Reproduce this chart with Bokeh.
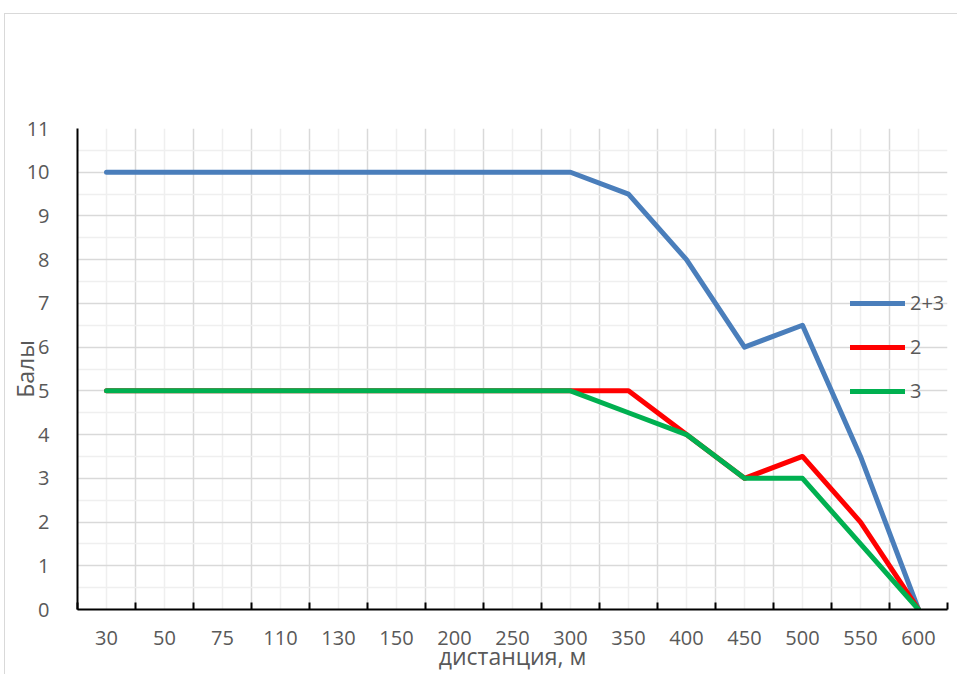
from bokeh.plotting import figure
from bokeh.models import FixedTicker, Legend, LegendItem
from bokeh.embed import file_html
from bokeh.resources import INLINE

categories = ["30", "50", "75", "110", "130", "150", "200", "250", "300",
              "350", "400", "450", "500", "550", "600"]
s_23 = [10, 10, 10, 10, 10, 10, 10, 10, 10, 9.5, 8, 6, 6.5, 3.5, 0]
s_2 = [5, 5, 5, 5, 5, 5, 5, 5, 5, 5, 4, 3, 3.5, 2, 0]
s_3 = [5, 5, 5, 5, 5, 5, 5, 5, 5, 4.5, 4, 3, 3, 1.5, 0]
series_names = ["2+3", "2", "3"]
series_colors = ["#4a7ebb", "#ff0000", "#00b050"]
y_ticks = list(range(0, 12))
x_title = "дистанция, м"
y_title = "Балы"

FONT = "Open Sans"
TXT = "#595959"

n = len(categories)
xpos = [i + 0.5 for i in range(n)]
bounds = list(range(n + 1))
y_minor = [v + 0.5 for v in y_ticks[:-1]]

p = figure(width=953, height=661, x_range=(0, n), y_range=(0, 11),
           output_backend="svg", toolbar_location=None,
           min_border_left=72, min_border_top=114,
           min_border_right=11, min_border_bottom=66)
p.margin = (13, 0, 0, 4)
p.styles = {"border-top": "1px solid #d9d9d9", "border-left": "1px solid #d9d9d9"}
p.outline_line_color = None
p.background_fill_color = "white"
p.border_fill_color = "white"

# grids
p.xgrid.ticker = FixedTicker(ticks=bounds, minor_ticks=xpos)
p.ygrid.ticker = FixedTicker(ticks=y_ticks, minor_ticks=y_minor)
for g in (p.xgrid, p.ygrid):
    g.grid_line_color = "#d9d9d9"
    g.grid_line_width = 1.5
    g.minor_grid_line_color = "#efefef"
    g.minor_grid_line_width = 1.5

# x axis
xa = p.xaxis[0]
xa.ticker = FixedTicker(ticks=xpos, minor_ticks=bounds)
xa.major_label_overrides = {xp: c for xp, c in zip(xpos, categories)}
xa.major_tick_line_color = None
xa.minor_tick_in = 7
xa.minor_tick_out = 0
xa.minor_tick_line_color = "black"
xa.minor_tick_line_width = 2
xa.axis_line_color = "black"
xa.axis_line_width = 2
xa.major_label_standoff = 15
xa.axis_label = x_title
xa.axis_label_standoff = -8

# y axis
ya = p.yaxis[0]
ya.ticker = FixedTicker(ticks=y_ticks, minor_ticks=y_minor)
ya.major_tick_line_color = None
ya.minor_tick_line_color = None
ya.axis_line_color = "black"
ya.axis_line_width = 2
ya.major_label_standoff = 22
ya.axis_label = y_title
ya.axis_label_standoff = -17

for ax in (xa, ya):
    ax.major_label_text_font = FONT
    ax.major_label_text_font_size = "20px"
    ax.major_label_text_color = TXT
    ax.axis_label_text_font = FONT
    ax.axis_label_text_font_size = "23px"
    ax.axis_label_text_font_style = "normal"
    ax.axis_label_text_color = TXT

items = []
for name, ys, col in zip(series_names, [s_23, s_2, s_3], series_colors):
    r = p.line(xpos, ys, line_color=col, line_width=5,
               line_cap="round", line_join="round")
    items.append(LegendItem(label=name, renderers=[r]))

legend = Legend(items=items, location=(773, 205))
legend.border_line_color = None
legend.background_fill_alpha = 0
legend.glyph_width = 55
legend.glyph_height = 20
legend.spacing = 17
legend.padding = 0
legend.margin = 0
legend.label_standoff = 5
legend.label_text_font = FONT
legend.label_text_font_size = "20px"
legend.label_text_color = TXT
p.add_layout(legend)

open("out.html", "w").write(file_html(p, INLINE))
